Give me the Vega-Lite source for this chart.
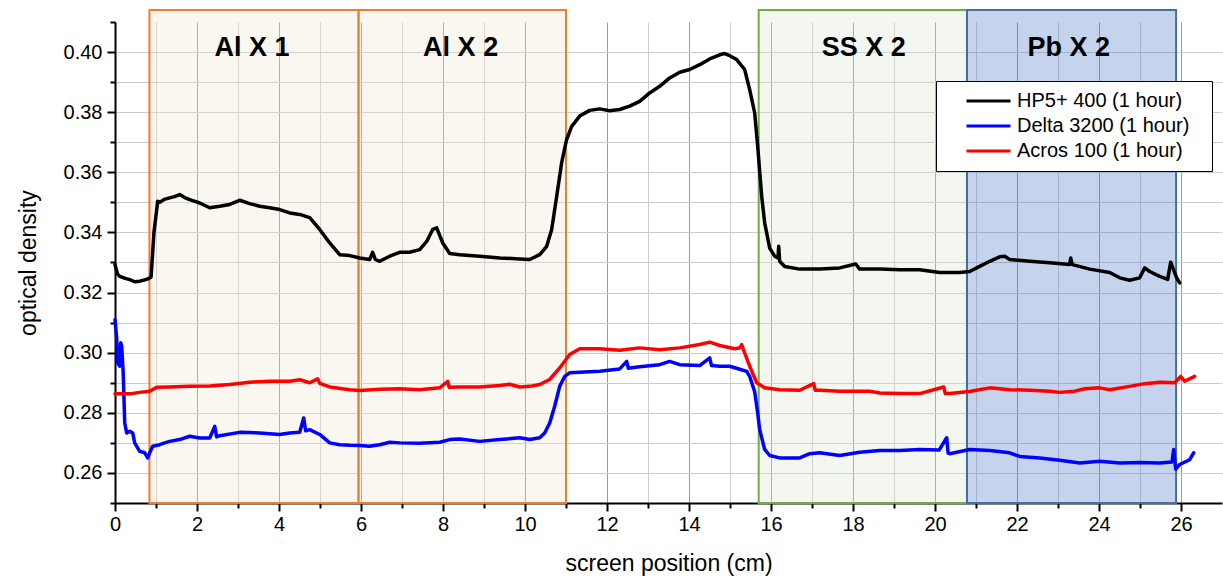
{
  "$schema": "https://vega.github.io/schema/vega-lite/v6.json",
  "width": 1107,
  "height": 481,
  "autosize": {"type": "none"},
  "padding": {"left": 115, "top": 22, "right": 1, "bottom": 76},
  "background": "white",
  "config": {
    "view": {"stroke": null},
    "font": "Liberation Sans"
  },
  "datasets": {
    "regions": [
      {"region": "Al X 1", "material": "Al", "x": 0.84, "x2": 5.94, "y": 0.25, "y2": 0.414},
      {"region": "Al X 2", "material": "Al", "x": 5.94, "x2": 11.0, "y": 0.25, "y2": 0.414},
      {"region": "SS X 2", "material": "SS", "x": 15.7, "x2": 20.78, "y": 0.25, "y2": 0.414},
      {"region": "Pb X 2", "material": "Pb", "x": 20.78, "x2": 25.88, "y": 0.25, "y2": 0.414}
    ],
    "labels": [
      {"region": "Al X 1", "x": 3.34, "y": 0.4015},
      {"region": "Al X 2", "x": 8.43, "y": 0.4015},
      {"region": "SS X 2", "x": 18.26, "y": 0.4015},
      {"region": "Pb X 2", "x": 23.26, "y": 0.4015}
    ],
    "curves": [
      {"series": "HP5+ 400 (1 hour)", "x": 0.0, "y": 0.3293},
      {"series": "HP5+ 400 (1 hour)", "x": 0.06, "y": 0.3262},
      {"series": "HP5+ 400 (1 hour)", "x": 0.115, "y": 0.3254},
      {"series": "HP5+ 400 (1 hour)", "x": 0.25, "y": 0.3247},
      {"series": "HP5+ 400 (1 hour)", "x": 0.359, "y": 0.3243},
      {"series": "HP5+ 400 (1 hour)", "x": 0.48, "y": 0.3236},
      {"series": "HP5+ 400 (1 hour)", "x": 0.602, "y": 0.3238},
      {"series": "HP5+ 400 (1 hour)", "x": 0.72, "y": 0.3242},
      {"series": "HP5+ 400 (1 hour)", "x": 0.798, "y": 0.3245},
      {"series": "HP5+ 400 (1 hour)", "x": 0.88, "y": 0.3252},
      {"series": "HP5+ 400 (1 hour)", "x": 0.95, "y": 0.3400},
      {"series": "HP5+ 400 (1 hour)", "x": 1.041, "y": 0.3504},
      {"series": "HP5+ 400 (1 hour)", "x": 1.09, "y": 0.3500},
      {"series": "HP5+ 400 (1 hour)", "x": 1.2, "y": 0.3510},
      {"series": "HP5+ 400 (1 hour)", "x": 1.334, "y": 0.3515},
      {"series": "HP5+ 400 (1 hour)", "x": 1.45, "y": 0.3519},
      {"series": "HP5+ 400 (1 hour)", "x": 1.578, "y": 0.3526},
      {"series": "HP5+ 400 (1 hour)", "x": 1.7, "y": 0.3516},
      {"series": "HP5+ 400 (1 hour)", "x": 1.822, "y": 0.3509},
      {"series": "HP5+ 400 (1 hour)", "x": 2.066, "y": 0.3498},
      {"series": "HP5+ 400 (1 hour)", "x": 2.31, "y": 0.3482},
      {"series": "HP5+ 400 (1 hour)", "x": 2.554, "y": 0.3487},
      {"series": "HP5+ 400 (1 hour)", "x": 2.798, "y": 0.3493},
      {"series": "HP5+ 400 (1 hour)", "x": 3.041, "y": 0.3507},
      {"series": "HP5+ 400 (1 hour)", "x": 3.285, "y": 0.3496},
      {"series": "HP5+ 400 (1 hour)", "x": 3.529, "y": 0.3487},
      {"series": "HP5+ 400 (1 hour)", "x": 3.773, "y": 0.3482},
      {"series": "HP5+ 400 (1 hour)", "x": 4.017, "y": 0.3476},
      {"series": "HP5+ 400 (1 hour)", "x": 4.261, "y": 0.3465},
      {"series": "HP5+ 400 (1 hour)", "x": 4.505, "y": 0.3460},
      {"series": "HP5+ 400 (1 hour)", "x": 4.749, "y": 0.3449},
      {"series": "HP5+ 400 (1 hour)", "x": 4.993, "y": 0.3410},
      {"series": "HP5+ 400 (1 hour)", "x": 5.237, "y": 0.3365},
      {"series": "HP5+ 400 (1 hour)", "x": 5.48, "y": 0.3326},
      {"series": "HP5+ 400 (1 hour)", "x": 5.724, "y": 0.3323},
      {"series": "HP5+ 400 (1 hour)", "x": 5.968, "y": 0.3315},
      {"series": "HP5+ 400 (1 hour)", "x": 6.212, "y": 0.3310},
      {"series": "HP5+ 400 (1 hour)", "x": 6.285, "y": 0.3334},
      {"series": "HP5+ 400 (1 hour)", "x": 6.35, "y": 0.3310},
      {"series": "HP5+ 400 (1 hour)", "x": 6.456, "y": 0.3304},
      {"series": "HP5+ 400 (1 hour)", "x": 6.7, "y": 0.3321},
      {"series": "HP5+ 400 (1 hour)", "x": 6.944, "y": 0.3334},
      {"series": "HP5+ 400 (1 hour)", "x": 7.188, "y": 0.3334},
      {"series": "HP5+ 400 (1 hour)", "x": 7.432, "y": 0.3343},
      {"series": "HP5+ 400 (1 hour)", "x": 7.602, "y": 0.3370},
      {"series": "HP5+ 400 (1 hour)", "x": 7.749, "y": 0.3410},
      {"series": "HP5+ 400 (1 hour)", "x": 7.846, "y": 0.3415},
      {"series": "HP5+ 400 (1 hour)", "x": 7.993, "y": 0.3365},
      {"series": "HP5+ 400 (1 hour)", "x": 8.163, "y": 0.3330},
      {"series": "HP5+ 400 (1 hour)", "x": 8.407, "y": 0.3326},
      {"series": "HP5+ 400 (1 hour)", "x": 8.895, "y": 0.3321},
      {"series": "HP5+ 400 (1 hour)", "x": 9.383, "y": 0.3315},
      {"series": "HP5+ 400 (1 hour)", "x": 9.871, "y": 0.3312},
      {"series": "HP5+ 400 (1 hour)", "x": 10.115, "y": 0.3310},
      {"series": "HP5+ 400 (1 hour)", "x": 10.359, "y": 0.3326},
      {"series": "HP5+ 400 (1 hour)", "x": 10.529, "y": 0.3354},
      {"series": "HP5+ 400 (1 hour)", "x": 10.651, "y": 0.3410},
      {"series": "HP5+ 400 (1 hour)", "x": 10.773, "y": 0.3520},
      {"series": "HP5+ 400 (1 hour)", "x": 10.895, "y": 0.3633},
      {"series": "HP5+ 400 (1 hour)", "x": 11.017, "y": 0.3710},
      {"series": "HP5+ 400 (1 hour)", "x": 11.139, "y": 0.3753},
      {"series": "HP5+ 400 (1 hour)", "x": 11.334, "y": 0.3787},
      {"series": "HP5+ 400 (1 hour)", "x": 11.578, "y": 0.3806},
      {"series": "HP5+ 400 (1 hour)", "x": 11.822, "y": 0.3811},
      {"series": "HP5+ 400 (1 hour)", "x": 12.066, "y": 0.3805},
      {"series": "HP5+ 400 (1 hour)", "x": 12.31, "y": 0.3809},
      {"series": "HP5+ 400 (1 hour)", "x": 12.554, "y": 0.3820},
      {"series": "HP5+ 400 (1 hour)", "x": 12.798, "y": 0.3836},
      {"series": "HP5+ 400 (1 hour)", "x": 13.041, "y": 0.3864},
      {"series": "HP5+ 400 (1 hour)", "x": 13.285, "y": 0.3886},
      {"series": "HP5+ 400 (1 hour)", "x": 13.529, "y": 0.3914},
      {"series": "HP5+ 400 (1 hour)", "x": 13.773, "y": 0.3933},
      {"series": "HP5+ 400 (1 hour)", "x": 14.017, "y": 0.3942},
      {"series": "HP5+ 400 (1 hour)", "x": 14.261, "y": 0.3958},
      {"series": "HP5+ 400 (1 hour)", "x": 14.505, "y": 0.3977},
      {"series": "HP5+ 400 (1 hour)", "x": 14.749, "y": 0.3991},
      {"series": "HP5+ 400 (1 hour)", "x": 14.871, "y": 0.3995},
      {"series": "HP5+ 400 (1 hour)", "x": 14.993, "y": 0.3988},
      {"series": "HP5+ 400 (1 hour)", "x": 15.163, "y": 0.3975},
      {"series": "HP5+ 400 (1 hour)", "x": 15.358, "y": 0.3942},
      {"series": "HP5+ 400 (1 hour)", "x": 15.48, "y": 0.3875},
      {"series": "HP5+ 400 (1 hour)", "x": 15.602, "y": 0.3798},
      {"series": "HP5+ 400 (1 hour)", "x": 15.675, "y": 0.3687},
      {"series": "HP5+ 400 (1 hour)", "x": 15.773, "y": 0.3520},
      {"series": "HP5+ 400 (1 hour)", "x": 15.846, "y": 0.3432},
      {"series": "HP5+ 400 (1 hour)", "x": 15.968, "y": 0.3348},
      {"series": "HP5+ 400 (1 hour)", "x": 16.09, "y": 0.3321},
      {"series": "HP5+ 400 (1 hour)", "x": 16.17, "y": 0.3315},
      {"series": "HP5+ 400 (1 hour)", "x": 16.188, "y": 0.3354},
      {"series": "HP5+ 400 (1 hour)", "x": 16.212, "y": 0.3304},
      {"series": "HP5+ 400 (1 hour)", "x": 16.334, "y": 0.3287},
      {"series": "HP5+ 400 (1 hour)", "x": 16.7, "y": 0.3278},
      {"series": "HP5+ 400 (1 hour)", "x": 17.188, "y": 0.3278},
      {"series": "HP5+ 400 (1 hour)", "x": 17.676, "y": 0.3282},
      {"series": "HP5+ 400 (1 hour)", "x": 18.066, "y": 0.3295},
      {"series": "HP5+ 400 (1 hour)", "x": 18.163, "y": 0.3278},
      {"series": "HP5+ 400 (1 hour)", "x": 18.651, "y": 0.3278},
      {"series": "HP5+ 400 (1 hour)", "x": 19.139, "y": 0.3276},
      {"series": "HP5+ 400 (1 hour)", "x": 19.627, "y": 0.3276},
      {"series": "HP5+ 400 (1 hour)", "x": 20.115, "y": 0.3267},
      {"series": "HP5+ 400 (1 hour)", "x": 20.602, "y": 0.3267},
      {"series": "HP5+ 400 (1 hour)", "x": 20.846, "y": 0.3270},
      {"series": "HP5+ 400 (1 hour)", "x": 21.09, "y": 0.3287},
      {"series": "HP5+ 400 (1 hour)", "x": 21.334, "y": 0.3304},
      {"series": "HP5+ 400 (1 hour)", "x": 21.578, "y": 0.3319},
      {"series": "HP5+ 400 (1 hour)", "x": 21.7, "y": 0.3321},
      {"series": "HP5+ 400 (1 hour)", "x": 21.822, "y": 0.3310},
      {"series": "HP5+ 400 (1 hour)", "x": 22.309, "y": 0.3304},
      {"series": "HP5+ 400 (1 hour)", "x": 22.797, "y": 0.3299},
      {"series": "HP5+ 400 (1 hour)", "x": 23.285, "y": 0.3293},
      {"series": "HP5+ 400 (1 hour)", "x": 23.31, "y": 0.3315},
      {"series": "HP5+ 400 (1 hour)", "x": 23.35, "y": 0.3293},
      {"series": "HP5+ 400 (1 hour)", "x": 23.773, "y": 0.3278},
      {"series": "HP5+ 400 (1 hour)", "x": 24.261, "y": 0.3267},
      {"series": "HP5+ 400 (1 hour)", "x": 24.505, "y": 0.3249},
      {"series": "HP5+ 400 (1 hour)", "x": 24.748, "y": 0.3241},
      {"series": "HP5+ 400 (1 hour)", "x": 24.992, "y": 0.3249},
      {"series": "HP5+ 400 (1 hour)", "x": 25.114, "y": 0.3282},
      {"series": "HP5+ 400 (1 hour)", "x": 25.236, "y": 0.3270},
      {"series": "HP5+ 400 (1 hour)", "x": 25.48, "y": 0.3254},
      {"series": "HP5+ 400 (1 hour)", "x": 25.675, "y": 0.3244},
      {"series": "HP5+ 400 (1 hour)", "x": 25.748, "y": 0.3301},
      {"series": "HP5+ 400 (1 hour)", "x": 25.895, "y": 0.3249},
      {"series": "HP5+ 400 (1 hour)", "x": 25.968, "y": 0.3232},

      {"series": "Delta 3200 (1 hour)", "x": 0.0, "y": 0.3110},
      {"series": "Delta 3200 (1 hour)", "x": 0.04, "y": 0.3050},
      {"series": "Delta 3200 (1 hour)", "x": 0.066, "y": 0.2966},
      {"series": "Delta 3200 (1 hour)", "x": 0.115, "y": 0.2955},
      {"series": "Delta 3200 (1 hour)", "x": 0.139, "y": 0.3033},
      {"series": "Delta 3200 (1 hour)", "x": 0.163, "y": 0.3022},
      {"series": "Delta 3200 (1 hour)", "x": 0.2, "y": 0.2933},
      {"series": "Delta 3200 (1 hour)", "x": 0.237, "y": 0.2766},
      {"series": "Delta 3200 (1 hour)", "x": 0.285, "y": 0.2733},
      {"series": "Delta 3200 (1 hour)", "x": 0.359, "y": 0.2739},
      {"series": "Delta 3200 (1 hour)", "x": 0.432, "y": 0.2733},
      {"series": "Delta 3200 (1 hour)", "x": 0.48, "y": 0.2700},
      {"series": "Delta 3200 (1 hour)", "x": 0.602, "y": 0.2672},
      {"series": "Delta 3200 (1 hour)", "x": 0.724, "y": 0.2667},
      {"series": "Delta 3200 (1 hour)", "x": 0.798, "y": 0.2650},
      {"series": "Delta 3200 (1 hour)", "x": 0.846, "y": 0.2667},
      {"series": "Delta 3200 (1 hour)", "x": 0.92, "y": 0.2689},
      {"series": "Delta 3200 (1 hour)", "x": 1.09, "y": 0.2694},
      {"series": "Delta 3200 (1 hour)", "x": 1.212, "y": 0.2700},
      {"series": "Delta 3200 (1 hour)", "x": 1.334, "y": 0.2705},
      {"series": "Delta 3200 (1 hour)", "x": 1.578, "y": 0.2711},
      {"series": "Delta 3200 (1 hour)", "x": 1.822, "y": 0.2722},
      {"series": "Delta 3200 (1 hour)", "x": 2.066, "y": 0.2716},
      {"series": "Delta 3200 (1 hour)", "x": 2.31, "y": 0.2716},
      {"series": "Delta 3200 (1 hour)", "x": 2.432, "y": 0.2755},
      {"series": "Delta 3200 (1 hour)", "x": 2.48, "y": 0.2720},
      {"series": "Delta 3200 (1 hour)", "x": 2.554, "y": 0.2724},
      {"series": "Delta 3200 (1 hour)", "x": 3.041, "y": 0.2735},
      {"series": "Delta 3200 (1 hour)", "x": 3.529, "y": 0.2733},
      {"series": "Delta 3200 (1 hour)", "x": 4.017, "y": 0.2728},
      {"series": "Delta 3200 (1 hour)", "x": 4.261, "y": 0.2733},
      {"series": "Delta 3200 (1 hour)", "x": 4.505, "y": 0.2735},
      {"series": "Delta 3200 (1 hour)", "x": 4.602, "y": 0.2783},
      {"series": "Delta 3200 (1 hour)", "x": 4.65, "y": 0.2740},
      {"series": "Delta 3200 (1 hour)", "x": 4.749, "y": 0.2744},
      {"series": "Delta 3200 (1 hour)", "x": 4.993, "y": 0.2728},
      {"series": "Delta 3200 (1 hour)", "x": 5.237, "y": 0.2700},
      {"series": "Delta 3200 (1 hour)", "x": 5.48, "y": 0.2694},
      {"series": "Delta 3200 (1 hour)", "x": 5.724, "y": 0.2692},
      {"series": "Delta 3200 (1 hour)", "x": 5.968, "y": 0.2691},
      {"series": "Delta 3200 (1 hour)", "x": 6.212, "y": 0.2689},
      {"series": "Delta 3200 (1 hour)", "x": 6.456, "y": 0.2694},
      {"series": "Delta 3200 (1 hour)", "x": 6.7, "y": 0.2702},
      {"series": "Delta 3200 (1 hour)", "x": 6.944, "y": 0.2700},
      {"series": "Delta 3200 (1 hour)", "x": 7.432, "y": 0.2699},
      {"series": "Delta 3200 (1 hour)", "x": 7.92, "y": 0.2702},
      {"series": "Delta 3200 (1 hour)", "x": 8.163, "y": 0.2711},
      {"series": "Delta 3200 (1 hour)", "x": 8.407, "y": 0.2713},
      {"series": "Delta 3200 (1 hour)", "x": 8.895, "y": 0.2705},
      {"series": "Delta 3200 (1 hour)", "x": 9.383, "y": 0.2711},
      {"series": "Delta 3200 (1 hour)", "x": 9.871, "y": 0.2717},
      {"series": "Delta 3200 (1 hour)", "x": 10.115, "y": 0.2711},
      {"series": "Delta 3200 (1 hour)", "x": 10.359, "y": 0.2717},
      {"series": "Delta 3200 (1 hour)", "x": 10.48, "y": 0.2733},
      {"series": "Delta 3200 (1 hour)", "x": 10.602, "y": 0.2766},
      {"series": "Delta 3200 (1 hour)", "x": 10.724, "y": 0.2822},
      {"series": "Delta 3200 (1 hour)", "x": 10.846, "y": 0.2888},
      {"series": "Delta 3200 (1 hour)", "x": 10.968, "y": 0.2921},
      {"series": "Delta 3200 (1 hour)", "x": 11.09, "y": 0.2933},
      {"series": "Delta 3200 (1 hour)", "x": 11.334, "y": 0.2935},
      {"series": "Delta 3200 (1 hour)", "x": 11.822, "y": 0.2938},
      {"series": "Delta 3200 (1 hour)", "x": 12.31, "y": 0.2946},
      {"series": "Delta 3200 (1 hour)", "x": 12.48, "y": 0.2971},
      {"series": "Delta 3200 (1 hour)", "x": 12.52, "y": 0.2948},
      {"series": "Delta 3200 (1 hour)", "x": 12.798, "y": 0.2953},
      {"series": "Delta 3200 (1 hour)", "x": 13.285, "y": 0.2960},
      {"series": "Delta 3200 (1 hour)", "x": 13.529, "y": 0.2971},
      {"series": "Delta 3200 (1 hour)", "x": 13.773, "y": 0.2960},
      {"series": "Delta 3200 (1 hour)", "x": 14.261, "y": 0.2957},
      {"series": "Delta 3200 (1 hour)", "x": 14.505, "y": 0.2983},
      {"series": "Delta 3200 (1 hour)", "x": 14.55, "y": 0.2957},
      {"series": "Delta 3200 (1 hour)", "x": 14.749, "y": 0.2955},
      {"series": "Delta 3200 (1 hour)", "x": 14.993, "y": 0.2955},
      {"series": "Delta 3200 (1 hour)", "x": 15.237, "y": 0.2945},
      {"series": "Delta 3200 (1 hour)", "x": 15.407, "y": 0.2938},
      {"series": "Delta 3200 (1 hour)", "x": 15.48, "y": 0.2921},
      {"series": "Delta 3200 (1 hour)", "x": 15.602, "y": 0.2870},
      {"series": "Delta 3200 (1 hour)", "x": 15.675, "y": 0.2800},
      {"series": "Delta 3200 (1 hour)", "x": 15.724, "y": 0.2744},
      {"series": "Delta 3200 (1 hour)", "x": 15.846, "y": 0.2678},
      {"series": "Delta 3200 (1 hour)", "x": 15.968, "y": 0.2658},
      {"series": "Delta 3200 (1 hour)", "x": 16.212, "y": 0.2650},
      {"series": "Delta 3200 (1 hour)", "x": 16.7, "y": 0.2650},
      {"series": "Delta 3200 (1 hour)", "x": 16.944, "y": 0.2664},
      {"series": "Delta 3200 (1 hour)", "x": 17.188, "y": 0.2667},
      {"series": "Delta 3200 (1 hour)", "x": 17.676, "y": 0.2658},
      {"series": "Delta 3200 (1 hour)", "x": 18.163, "y": 0.2669},
      {"series": "Delta 3200 (1 hour)", "x": 18.651, "y": 0.2675},
      {"series": "Delta 3200 (1 hour)", "x": 19.139, "y": 0.2675},
      {"series": "Delta 3200 (1 hour)", "x": 19.627, "y": 0.2678},
      {"series": "Delta 3200 (1 hour)", "x": 20.1, "y": 0.2676},
      {"series": "Delta 3200 (1 hour)", "x": 20.285, "y": 0.2717},
      {"series": "Delta 3200 (1 hour)", "x": 20.32, "y": 0.2666},
      {"series": "Delta 3200 (1 hour)", "x": 20.358, "y": 0.2664},
      {"series": "Delta 3200 (1 hour)", "x": 20.846, "y": 0.2678},
      {"series": "Delta 3200 (1 hour)", "x": 21.334, "y": 0.2675},
      {"series": "Delta 3200 (1 hour)", "x": 21.822, "y": 0.2667},
      {"series": "Delta 3200 (1 hour)", "x": 22.066, "y": 0.2655},
      {"series": "Delta 3200 (1 hour)", "x": 22.553, "y": 0.2650},
      {"series": "Delta 3200 (1 hour)", "x": 23.041, "y": 0.2642},
      {"series": "Delta 3200 (1 hour)", "x": 23.529, "y": 0.2633},
      {"series": "Delta 3200 (1 hour)", "x": 24.017, "y": 0.2639},
      {"series": "Delta 3200 (1 hour)", "x": 24.505, "y": 0.2633},
      {"series": "Delta 3200 (1 hour)", "x": 24.992, "y": 0.2635},
      {"series": "Delta 3200 (1 hour)", "x": 25.48, "y": 0.2633},
      {"series": "Delta 3200 (1 hour)", "x": 25.78, "y": 0.2636},
      {"series": "Delta 3200 (1 hour)", "x": 25.822, "y": 0.2678},
      {"series": "Delta 3200 (1 hour)", "x": 25.871, "y": 0.2613},
      {"series": "Delta 3200 (1 hour)", "x": 25.968, "y": 0.2628},
      {"series": "Delta 3200 (1 hour)", "x": 26.211, "y": 0.2644},
      {"series": "Delta 3200 (1 hour)", "x": 26.309, "y": 0.2667},

      {"series": "Acros 100 (1 hour)", "x": 0.0, "y": 0.2863},
      {"series": "Acros 100 (1 hour)", "x": 0.359, "y": 0.2863},
      {"series": "Acros 100 (1 hour)", "x": 0.602, "y": 0.2868},
      {"series": "Acros 100 (1 hour)", "x": 0.846, "y": 0.2872},
      {"series": "Acros 100 (1 hour)", "x": 1.017, "y": 0.2885},
      {"series": "Acros 100 (1 hour)", "x": 1.334, "y": 0.2886},
      {"series": "Acros 100 (1 hour)", "x": 1.822, "y": 0.2888},
      {"series": "Acros 100 (1 hour)", "x": 2.31, "y": 0.2889},
      {"series": "Acros 100 (1 hour)", "x": 2.798, "y": 0.2894},
      {"series": "Acros 100 (1 hour)", "x": 3.285, "y": 0.2902},
      {"series": "Acros 100 (1 hour)", "x": 3.773, "y": 0.2905},
      {"series": "Acros 100 (1 hour)", "x": 4.261, "y": 0.2905},
      {"series": "Acros 100 (1 hour)", "x": 4.505, "y": 0.2910},
      {"series": "Acros 100 (1 hour)", "x": 4.749, "y": 0.2900},
      {"series": "Acros 100 (1 hour)", "x": 4.944, "y": 0.2913},
      {"series": "Acros 100 (1 hour)", "x": 4.993, "y": 0.2898},
      {"series": "Acros 100 (1 hour)", "x": 5.237, "y": 0.2886},
      {"series": "Acros 100 (1 hour)", "x": 5.724, "y": 0.2877},
      {"series": "Acros 100 (1 hour)", "x": 5.968, "y": 0.2874},
      {"series": "Acros 100 (1 hour)", "x": 6.456, "y": 0.2878},
      {"series": "Acros 100 (1 hour)", "x": 6.944, "y": 0.2880},
      {"series": "Acros 100 (1 hour)", "x": 7.432, "y": 0.2877},
      {"series": "Acros 100 (1 hour)", "x": 7.92, "y": 0.2883},
      {"series": "Acros 100 (1 hour)", "x": 8.115, "y": 0.2905},
      {"series": "Acros 100 (1 hour)", "x": 8.15, "y": 0.2885},
      {"series": "Acros 100 (1 hour)", "x": 8.407, "y": 0.2886},
      {"series": "Acros 100 (1 hour)", "x": 8.895, "y": 0.2886},
      {"series": "Acros 100 (1 hour)", "x": 9.383, "y": 0.2891},
      {"series": "Acros 100 (1 hour)", "x": 9.627, "y": 0.2895},
      {"series": "Acros 100 (1 hour)", "x": 9.871, "y": 0.2886},
      {"series": "Acros 100 (1 hour)", "x": 10.115, "y": 0.2888},
      {"series": "Acros 100 (1 hour)", "x": 10.359, "y": 0.2894},
      {"series": "Acros 100 (1 hour)", "x": 10.602, "y": 0.2911},
      {"series": "Acros 100 (1 hour)", "x": 10.846, "y": 0.2949},
      {"series": "Acros 100 (1 hour)", "x": 11.09, "y": 0.2994},
      {"series": "Acros 100 (1 hour)", "x": 11.334, "y": 0.3013},
      {"series": "Acros 100 (1 hour)", "x": 11.822, "y": 0.3013},
      {"series": "Acros 100 (1 hour)", "x": 12.31, "y": 0.3008},
      {"series": "Acros 100 (1 hour)", "x": 12.798, "y": 0.3016},
      {"series": "Acros 100 (1 hour)", "x": 13.285, "y": 0.3010},
      {"series": "Acros 100 (1 hour)", "x": 13.773, "y": 0.3016},
      {"series": "Acros 100 (1 hour)", "x": 14.261, "y": 0.3027},
      {"series": "Acros 100 (1 hour)", "x": 14.505, "y": 0.3035},
      {"series": "Acros 100 (1 hour)", "x": 14.749, "y": 0.3024},
      {"series": "Acros 100 (1 hour)", "x": 15.115, "y": 0.3013},
      {"series": "Acros 100 (1 hour)", "x": 15.237, "y": 0.3016},
      {"series": "Acros 100 (1 hour)", "x": 15.285, "y": 0.3027},
      {"series": "Acros 100 (1 hour)", "x": 15.358, "y": 0.2999},
      {"series": "Acros 100 (1 hour)", "x": 15.48, "y": 0.2955},
      {"series": "Acros 100 (1 hour)", "x": 15.651, "y": 0.2900},
      {"series": "Acros 100 (1 hour)", "x": 15.846, "y": 0.2883},
      {"series": "Acros 100 (1 hour)", "x": 16.212, "y": 0.2877},
      {"series": "Acros 100 (1 hour)", "x": 16.7, "y": 0.2875},
      {"series": "Acros 100 (1 hour)", "x": 17.041, "y": 0.2897},
      {"series": "Acros 100 (1 hour)", "x": 17.08, "y": 0.2875},
      {"series": "Acros 100 (1 hour)", "x": 17.188, "y": 0.2875},
      {"series": "Acros 100 (1 hour)", "x": 17.676, "y": 0.2872},
      {"series": "Acros 100 (1 hour)", "x": 18.407, "y": 0.2872},
      {"series": "Acros 100 (1 hour)", "x": 18.651, "y": 0.2866},
      {"series": "Acros 100 (1 hour)", "x": 19.139, "y": 0.2864},
      {"series": "Acros 100 (1 hour)", "x": 19.627, "y": 0.2864},
      {"series": "Acros 100 (1 hour)", "x": 20.212, "y": 0.2886},
      {"series": "Acros 100 (1 hour)", "x": 20.25, "y": 0.2864},
      {"series": "Acros 100 (1 hour)", "x": 20.358, "y": 0.2864},
      {"series": "Acros 100 (1 hour)", "x": 20.846, "y": 0.2871},
      {"series": "Acros 100 (1 hour)", "x": 21.334, "y": 0.2883},
      {"series": "Acros 100 (1 hour)", "x": 21.822, "y": 0.2877},
      {"series": "Acros 100 (1 hour)", "x": 22.309, "y": 0.2875},
      {"series": "Acros 100 (1 hour)", "x": 22.797, "y": 0.2872},
      {"series": "Acros 100 (1 hour)", "x": 23.041, "y": 0.2868},
      {"series": "Acros 100 (1 hour)", "x": 23.407, "y": 0.2872},
      {"series": "Acros 100 (1 hour)", "x": 23.651, "y": 0.2880},
      {"series": "Acros 100 (1 hour)", "x": 24.017, "y": 0.2883},
      {"series": "Acros 100 (1 hour)", "x": 24.261, "y": 0.2877},
      {"series": "Acros 100 (1 hour)", "x": 24.748, "y": 0.2888},
      {"series": "Acros 100 (1 hour)", "x": 25.114, "y": 0.2897},
      {"series": "Acros 100 (1 hour)", "x": 25.48, "y": 0.2902},
      {"series": "Acros 100 (1 hour)", "x": 25.846, "y": 0.2900},
      {"series": "Acros 100 (1 hour)", "x": 25.992, "y": 0.2921},
      {"series": "Acros 100 (1 hour)", "x": 26.089, "y": 0.2905},
      {"series": "Acros 100 (1 hour)", "x": 26.333, "y": 0.2921}
    ]
  },
  "encoding": {
    "x": {
      "field": "x",
      "type": "quantitative",
      "scale": {"domain": [0, 27], "nice": false, "zero": false},
      "axis": {
        "title": "screen position (cm)",
        "titleFont": "Liberation Sans",
        "titleFontSize": 23,
        "titleFontWeight": "normal",
        "titleColor": "#000000",
        "titlePadding": 18,
        "values": [0,1,2,3,4,5,6,7,8,9,10,11,12,13,14,15,16,17,18,19,20,21,22,23,24,25,26],
        "labelExpr": "datum.value % 2 === 0 ? datum.label : ''",
        "labelFont": "Liberation Sans",
        "labelFontSize": 20,
        "labelColor": "#000000",
        "labelPadding": 3,
        "labelOverlap": false,
        "labelFlush": false,
        "domainColor": "#000000",
        "domainWidth": 2,
        "tickColor": "#000000",
        "tickWidth": 2,
        "tickSize": {"condition": {"test": "datum.value % 2 === 0", "value": 8}, "value": 5},
        "grid": true,
        "gridColor": {"condition": {"test": "datum.value % 2 === 0", "value": "#9a9a9a"}, "value": "#cfcfcf"},
        "gridWidth": 1
      }
    },
    "y": {
      "field": "y",
      "type": "quantitative",
      "scale": {"domain": [0.25, 0.41], "nice": false, "zero": false},
      "axis": {
        "title": "optical density",
        "titleFont": "Liberation Sans",
        "titleFontSize": 23,
        "titleFontWeight": "normal",
        "titleColor": "#000000",
        "titlePadding": 23,
        "values": [0.25,0.26,0.27,0.28,0.29,0.30,0.31,0.32,0.33,0.34,0.35,0.36,0.37,0.38,0.39,0.40,0.41],
        "labelExpr": "round(datum.value * 100) % 2 === 0 ? format(datum.value, '.2f') : ''",
        "labelFont": "Liberation Sans",
        "labelFontSize": 20,
        "labelColor": "#000000",
        "labelPadding": 5,
        "labelOverlap": false,
        "labelFlush": false,
        "domainColor": "#000000",
        "domainWidth": 2,
        "tickColor": "#000000",
        "tickWidth": 2,
        "tickSize": {"condition": {"test": "round(datum.value * 100) % 2 === 0", "value": 8}, "value": 5},
        "grid": true,
        "gridColor": {"condition": {"test": "datum.value > 0.405 || datum.value < 0.255", "value": "transparent"}, "value": "#cccccc"},
        "gridWidth": 1
      }
    }
  },
  "layer": [
    {
      "data": {"name": "regions"},
      "mark": {"type": "rect", "strokeWidth": 2, "strokeOpacity": 1, "fillOpacity": 0.3},
      "encoding": {
        "x2": {"field": "x2"},
        "y2": {"field": "y2"},
        "fill": {"field": "material", "type": "nominal", "scale": {"domain": ["Al", "SS", "Pb"], "range": ["#EEE1CD", "#DAE4CD", "#3E6CC0"]}, "legend": null},
        "stroke": {"field": "material", "type": "nominal", "scale": {"domain": ["Al", "SS", "Pb"], "range": ["#ED7D31", "#70AD47", "#41719C"]}, "legend": null}
      }
    },
    {
      "data": {"name": "labels"},
      "mark": {"type": "text", "font": "Liberation Sans", "fontSize": 27, "fontWeight": "bold", "color": "#000000", "baseline": "middle", "align": "center"},
      "encoding": {
        "text": {"field": "region", "type": "nominal"}
      }
    },
    {
      "data": {"name": "curves"},
      "mark": {"type": "line", "strokeWidth": 3.5, "strokeJoin": "round", "strokeCap": "round"},
      "encoding": {
        "stroke": {
          "field": "series",
          "type": "nominal",
          "scale": {"domain": ["HP5+ 400 (1 hour)", "Delta 3200 (1 hour)", "Acros 100 (1 hour)"], "range": ["#000000", "#0000FF", "#FF0000"]},
          "legend": {
            "title": "x",
            "titleOrient": "right",
            "titleFontSize": 12,
            "titleOpacity": 0,
            "titlePadding": 6,
            "orient": "none",
            "legendX": 821,
            "legendY": 59,
            "symbolType": "M-4,0H4",
            "symbolSize": 121,
            "symbolStrokeWidth": 3,
            "symbolOffset": 32.5,
            "labelFont": "Liberation Sans",
            "labelFontSize": 20,
            "labelColor": "#000000",
            "labelOffset": 18.5,
            "labelLimit": 400,
            "rowPadding": 5,
            "padding": 10,
            "strokeColor": "#000000",
            "fillColor": "#FFFFFF"
          }
        }
      }
    }
  ],
  "resolve": {"scale": {"stroke": "independent", "fill": "independent"}}
}
